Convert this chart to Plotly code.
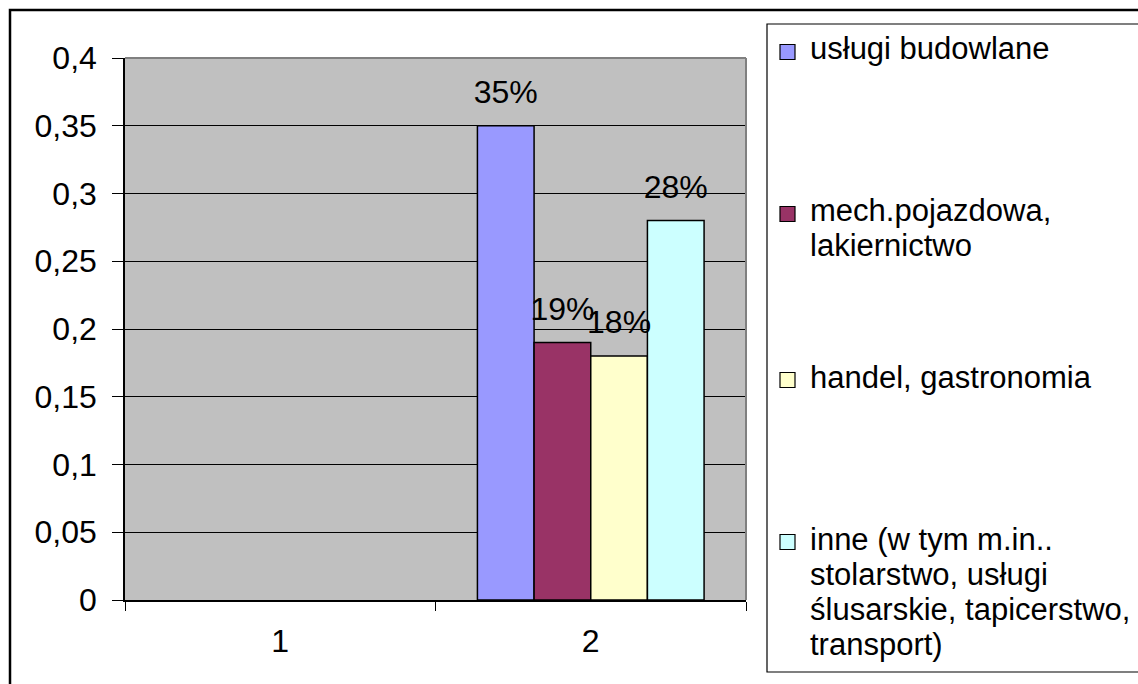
import plotly.graph_objects as go

# ---- data ----
categories = ["1", "2"]
series_names = [
    "usługi budowlane",
    "mech.pojazdowa,<br>lakiernictwo",
    "handel, gastronomia",
    "inne (w tym m.in..<br>stolarstwo, usługi<br>ślusarskie, tapicerstwo,<br>transport)",
]
uslugi_budowlane = [None, 0.35]
mech_pojazdowa = [None, 0.19]
handel_gastronomia = [None, 0.18]
inne = [None, 0.28]
series_values = [uslugi_budowlane, mech_pojazdowa, handel_gastronomia, inne]
colors = ["#9999FF", "#993366", "#FFFFCC", "#CCFFFF"]

# ---- layout geometry (pixels) ----
W, H = 1138, 684
L, R, T, B = 125, 746, 58, 600
PW, PH = R - L, B - T
FONT = "Arial, Liberation Sans, sans-serif"
FS_TICK = 32
FS_LABEL = 32
FS_LEG = 31
GAP = 0.27


def px(x):
    return (x - L) / PW


def py(y):
    return (B - y) / PH


fig = go.Figure()
for i, (name, vals, col) in enumerate(zip(series_names, series_values, colors)):
    fig.add_trace(go.Bar(
        x=categories, y=vals, name=name, offsetgroup=str(i),
        marker=dict(color=col, line=dict(color="black", width=1.5)),
        showlegend=False, hoverinfo="skip",
    ))
for i, (name, vals) in enumerate(zip(series_names, series_values)):
    fig.add_trace(go.Scatter(
        x=categories, y=vals, name=name, offsetgroup=str(i),
        mode="markers+text", texttemplate="%{y:.0%}", textposition="top center",
        marker=dict(size=22, opacity=0),
        textfont=dict(family=FONT, size=FS_LABEL, color="black"),
        cliponaxis=False, showlegend=False,
    ))

shapes = []
# outer chart border
shapes.append(dict(type="rect", xref="paper", yref="paper",
                   x0=px(10), x1=px(1145), y0=py(695), y1=py(10),
                   line=dict(color="black", width=2.5), layer="below"))
# plot area top/right gray border
shapes.append(dict(type="line", xref="paper", yref="paper",
                   x0=0, x1=1, y0=1, y1=1, line=dict(color="#808080", width=2)))
shapes.append(dict(type="line", xref="paper", yref="paper",
                   x0=1, x1=1, y0=0, y1=1, line=dict(color="#808080", width=2)))
# legend box
shapes.append(dict(type="rect", xref="paper", yref="paper",
                   x0=px(767), x1=px(1145), y0=py(672), y1=py(24),
                   line=dict(color="black", width=1.2), fillcolor="white", layer="below"))

annotations = []
baselines = [60, 222, 388, 550]
line_gap = 35
for name, col, base in zip(series_names, colors, baselines):
    sq_c = base - 8
    shapes.append(dict(type="rect", xref="paper", yref="paper",
                       x0=px(780), x1=px(795), y0=py(sq_c + 7.5), y1=py(sq_c - 7.5),
                       fillcolor=col, line=dict(color="black", width=1.2)))
    for i, line in enumerate(name.split("<br>")):
        annotations.append(dict(
            xref="paper", yref="paper", x=px(808), y=py(base + i * line_gap - 11),
            xanchor="left", yanchor="middle", text=line, showarrow=False,
            font=dict(family=FONT, size=FS_LEG, color="black"),
        ))

fig.update_layout(
    width=W, height=H,
    margin=dict(l=L, r=W - R, t=T, b=H - B, pad=0),
    paper_bgcolor="white", plot_bgcolor="#C0C0C0",
    barmode="group", bargap=GAP, bargroupgap=0,
    scattermode="group", scattergap=GAP,
    separators=", ",
    font=dict(family=FONT, size=FS_TICK, color="black"),
    shapes=shapes, annotations=annotations,
    showlegend=False,
)
fig.update_xaxes(
    type="category", categoryorder="array", categoryarray=categories,
    tickson="boundaries", ticks="outside", ticklen=9, tickcolor="black", tickwidth=1,
    showline=True, linecolor="black", linewidth=1.5, showgrid=False,
    ticklabelstandoff=12, tickfont=dict(family=FONT, size=FS_TICK),
)
fig.update_yaxes(
    range=[0, 0.4], dtick=0.05, tick0=0,
    ticks="outside", ticklen=11, tickcolor="black", tickwidth=1,
    showline=True, linecolor="black", linewidth=1.5,
    showgrid=True, gridcolor="black", gridwidth=1, zeroline=False,
    ticklabelstandoff=9, tickfont=dict(family=FONT, size=FS_TICK),
)

fig.write_html("out.html", config={"displayModeBar": False},
               post_script="document.body.style.margin='0';")
